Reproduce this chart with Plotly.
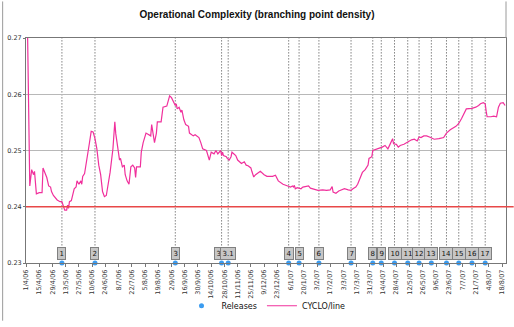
import pandas as pd
import plotly.graph_objects as go

# ---- data ----
start_date = "2006-04-01"
cyclo_days = [0, 3, 4, 6, 8, 9, 11, 14, 17, 18, 20, 22, 24, 26, 27, 29, 33, 36, 38, 40, 41, 43, 44, 45, 46, 48,
              51, 53, 54, 56, 58, 59, 60, 62, 64, 66, 67, 69, 71, 73, 75, 77, 79, 81, 83, 85, 87, 89, 92, 93, 94,
              95, 97, 99, 100, 102, 104, 105, 107, 109, 111, 113, 115, 116, 117, 121, 122, 124, 127, 129, 132,
              133, 135, 136, 138, 139, 143, 145, 149, 152, 154, 155, 158, 159, 160, 162, 164, 165, 166, 167, 169,
              172, 173, 175, 177, 179, 181, 183, 185, 187, 191, 194, 196, 199, 201, 203, 206, 207, 208, 209, 212,
              213, 215, 217, 218, 220, 222, 224, 226, 228, 231, 233, 235, 237, 238, 239, 241, 243, 245, 248, 252,
              255, 261, 264, 267, 272, 277, 280, 282, 283, 284, 285, 287, 291, 293, 296, 299, 301, 304, 309, 314,
              318, 322, 324, 325, 328, 331, 333, 337, 341, 344, 346, 348, 349, 351, 354, 356, 359, 362, 363, 366,
              367, 372, 375, 377, 380, 382, 383, 385, 388, 389, 392, 394, 396, 400, 403, 406, 408, 411, 414, 416,
              418, 421, 424, 427, 432, 437, 442, 445, 449, 455, 458, 461, 463, 466, 472, 476, 479, 481, 484, 486,
              487, 488, 492, 495, 498, 500, 502, 505, 507]
cyclo_values = [0.2900, 0.2483, 0.2437, 0.2466, 0.2457, 0.2463, 0.2423, 0.2425, 0.2425, 0.2469, 0.2461, 0.2452,
                0.2437, 0.2435, 0.2427, 0.2420, 0.2412, 0.2409, 0.2409, 0.2397, 0.2394, 0.2394, 0.2403, 0.2397,
                0.2409, 0.2411, 0.2432, 0.2435, 0.2446, 0.2440, 0.2446, 0.2440, 0.2454, 0.2459, 0.2478, 0.2500,
                0.2512, 0.2534, 0.2533, 0.2521, 0.2503, 0.2474, 0.2457, 0.2427, 0.2418, 0.2420, 0.2440, 0.2461,
                0.2503, 0.2526, 0.2551, 0.2530, 0.2503, 0.2483, 0.2486, 0.2471, 0.2474, 0.2457, 0.2446, 0.2440,
                0.2471, 0.2474, 0.2469, 0.2452, 0.2471, 0.2471, 0.2497, 0.2514, 0.2531, 0.2529, 0.2526, 0.2546,
                0.2529, 0.2514, 0.2531, 0.2551, 0.2551, 0.2577, 0.2579, 0.2597, 0.2594, 0.2591, 0.2580, 0.2583,
                0.2574, 0.2577, 0.2568, 0.2572, 0.2563, 0.2555, 0.2546, 0.2543, 0.2531, 0.2529, 0.2526, 0.2528,
                0.2526, 0.2523, 0.2514, 0.2503, 0.2500, 0.2483, 0.2497, 0.2494, 0.2500, 0.2494, 0.2500, 0.2491,
                0.2497, 0.2491, 0.2489, 0.2486, 0.2483, 0.2489, 0.2497, 0.2494, 0.2491, 0.2483, 0.2480, 0.2477,
                0.2480, 0.2474, 0.2473, 0.2471, 0.2469, 0.2463, 0.2453, 0.2457, 0.2459, 0.2463, 0.2457, 0.2454,
                0.2454, 0.2456, 0.2446, 0.2440, 0.2437, 0.2435, 0.2437, 0.2435, 0.2438, 0.2432, 0.2434, 0.2432,
                0.2435, 0.2436, 0.2437, 0.2433, 0.2432, 0.2429, 0.2430, 0.2429, 0.2430, 0.2436, 0.2426, 0.2424,
                0.2428, 0.2429, 0.2432, 0.2430, 0.2429, 0.2432, 0.2435, 0.2435, 0.2440, 0.2452, 0.2461, 0.2466,
                0.2474, 0.2486, 0.2489, 0.2500, 0.2503, 0.2504, 0.2506, 0.2509, 0.2506, 0.2503, 0.2510, 0.2521,
                0.2512, 0.2511, 0.2506, 0.2509, 0.2511, 0.2514, 0.2517, 0.2519, 0.2520, 0.2517, 0.2524, 0.2523,
                0.2526, 0.2526, 0.2524, 0.2520, 0.2521, 0.2523, 0.2531, 0.2537, 0.2543, 0.2548, 0.2557, 0.2563,
                0.2574, 0.2575, 0.2577, 0.2580, 0.2583, 0.2585, 0.2583, 0.2570, 0.2560, 0.2560, 0.2561, 0.2560,
                0.2577, 0.2584, 0.2585, 0.2580]

release_labels = ["1", "2", "3", "3.0", "3.1", "4", "5", "6", "7", "8", "9", "10", "11", "12", "13", "14", "15",
                  "16", "17"]
release_dates = ["2006-05-09", "2006-06-13", "2006-09-06", "2006-10-25", "2006-11-01", "2007-01-04",
                 "2007-01-15", "2007-02-05", "2007-03-11", "2007-04-03", "2007-04-12", "2007-04-26",
                 "2007-05-10", "2007-05-22", "2007-06-04", "2007-06-20", "2007-07-03", "2007-07-17",
                 "2007-07-31"]
threshold = 0.24
y_min, y_max = 0.23, 0.27

# ---- build ----
t0 = pd.Timestamp(start_date)
cyclo_x = [t0 + pd.Timedelta(days=d) for d in cyclo_days]
rel_x = pd.to_datetime(release_dates)

fig = go.Figure()
fig.add_trace(go.Scatter(
    x=rel_x, y=[y_min] * len(rel_x), mode="markers", name="Releases",
    marker=dict(color="#3b9cf0", size=5), cliponaxis=False))
fig.add_trace(go.Scatter(
    x=cyclo_x, y=cyclo_values, mode="lines", name="CYCLO/line",
    line=dict(color="#f0309c", width=1.2)))

frame_col = "#9a9a9a"
shapes = []
# outer frame edges (left edge of picture, right edge continuing the plot border)
shapes.append(dict(type="line", xref="paper", yref="paper", x0=-23.5 / 483, x1=-23.5 / 483,
                   y0=-60 / 234, y1=1 + 38 / 234, line=dict(color=frame_col, width=1)))
shapes.append(dict(type="line", xref="paper", yref="paper", x0=1, x1=1,
                   y0=1, y1=1 + 38 / 234, line=dict(color=frame_col, width=1)))
# threshold line
shapes.append(dict(type="line", xref="paper", yref="y", x0=0, x1=1.016, y0=threshold, y1=threshold,
                   line=dict(color="#e84848", width=1.5), layer="above"))
for d in rel_x:
    shapes.append(dict(type="line", xref="x", yref="y", x0=d, x1=d, y0=0.2326, y1=y_max,
                       line=dict(color="#444444", width=1, dash="1px,2px"), layer="below"))
annotations = []
for lab, d in zip(release_labels, rel_x):
    annotations.append(dict(x=d, y=0.23162, xref="x", yref="y", text=lab, showarrow=False,
                            font=dict(size=7, color="#111111", family="DejaVu Sans"),
                            bgcolor="#c6c6c6", bordercolor="#808080", borderwidth=1, borderpad=1.5))

fig.update_layout(
    width=514, height=327,
    margin=dict(l=24, r=7, t=38, b=55),
    paper_bgcolor="white", plot_bgcolor="white",
    title=dict(text="<b>Operational Complexity (branching point density)</b>",
               x=0.5, xanchor="center", y=1 - 14 / 327, yanchor="middle",
               font=dict(family="Liberation Sans", size=10, color="#111111")),
    shapes=shapes, annotations=annotations,
    showlegend=True,
    legend=dict(orientation="h", x=0.5, xanchor="center", y=-0.19, yanchor="middle",
                font=dict(family="DejaVu Sans", size=8, color="#111111"),
                itemwidth=30, bgcolor="rgba(0,0,0,0)"),
    xaxis=dict(type="date", range=[t0, t0 + pd.Timedelta(days=508)],
               tick0=start_date, dtick=14 * 86400000, tickformat="%-d/%-m/%y", tickangle=-90,
               tickfont=dict(family="DejaVu Sans", size=6.5, color="#333333"),
               showgrid=False, showline=True, linecolor="#777777", linewidth=1,
               ticks="outside", ticklen=3, tickcolor="#777777", mirror=True, zeroline=False),
    yaxis=dict(range=[y_min, y_max], dtick=0.01, tickformat=".2f",
               tickfont=dict(family="DejaVu Sans", size=6.5, color="#333333"),
               showgrid=True, gridcolor="#b8b8b8", gridwidth=1,
               showline=True, linecolor="#777777", linewidth=1, mirror=True,
               ticks="outside", ticklen=2, tickcolor="#777777", zeroline=False),
)

fig.write_html("out.html")
